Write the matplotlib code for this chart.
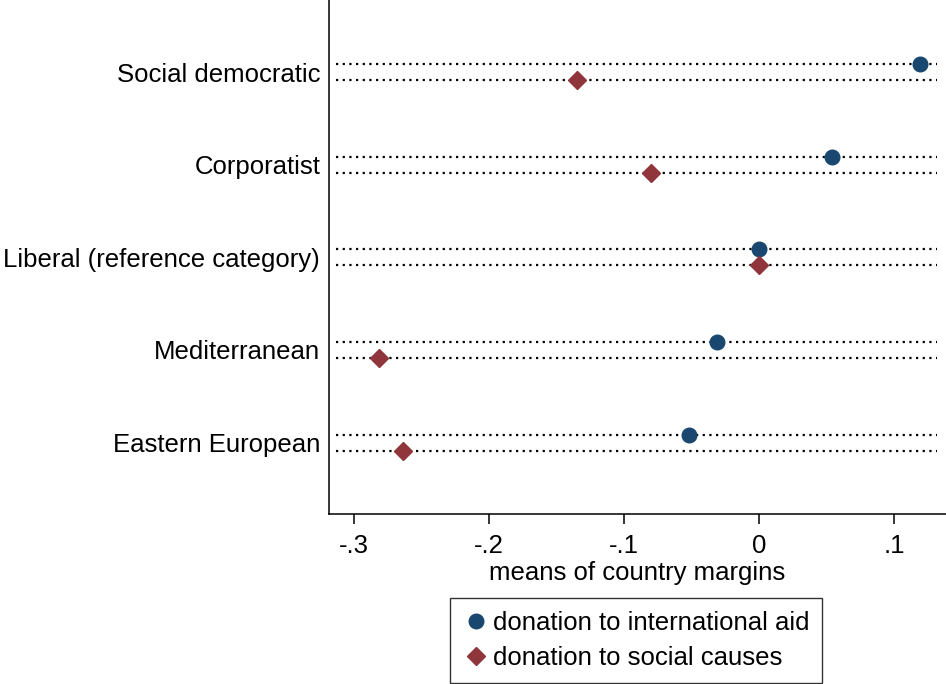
import matplotlib.pyplot as plt

plt.rcParams['font.family'] = ['Liberation Sans', 'DejaVu Sans']

# Regime types (top to bottom) and mean country margins
regimes = ['Social democratic', 'Corporatist', 'Liberal (reference category)',
           'Mediterranean', 'Eastern European']
intl_aid = [0.119, 0.054, 0.0, -0.031, -0.052]
social_causes = [-0.135, -0.080, 0.0, -0.2815, -0.264]
xticks = [-0.3, -0.2, -0.1, 0, 0.1]
xtick_labels = ['-.3', '-.2', '-.1', '0', '.1']

navy = '#1a476f'
maroon = '#90353b'
fs = 18.5

fig = plt.figure(figsize=(9.46, 6.84), dpi=100)
ax = fig.add_axes([328.5 / 946, 1 - 514.3 / 684, 1 - 328.5 / 946, 514.3 / 684])

off = 0.0864
ypos = list(range(len(regimes)))

# dotted guide lines, one per series and category
for y in ypos:
    for dy in (-off, off):
        ax.plot([-0.3133, 0.1319], [y + dy, y + dy], color='black',
                linewidth=1.6, linestyle=(0, (1, 2.0)), zorder=1)

ax.plot(intl_aid, [y - off for y in ypos], linestyle='none', marker='o',
        markersize=10.5, color=navy, label='donation to international aid', zorder=3)
ax.plot(social_causes, [y + off for y in ypos], linestyle='none', marker='D',
        markersize=9.5, color=maroon, label='donation to social causes', zorder=3)

ax.set_xlim(-0.3189, 0.1385)
ax.set_ylim(4.775, -0.781)

ax.set_yticks(ypos)
ax.set_yticklabels(regimes, fontsize=fs)
ax.tick_params(axis='y', length=0, pad=6)

ax.set_xticks(xticks)
ax.set_xticklabels(xtick_labels, fontsize=fs)
ax.tick_params(axis='x', length=7, width=1.1, pad=7, color='black')
ax.set_xlabel('means of country margins', fontsize=fs, labelpad=2)

for side in ('top', 'right'):
    ax.spines[side].set_visible(False)
for side in ('left', 'bottom'):
    ax.spines[side].set_linewidth(1.1)
    ax.spines[side].set_color('black')

leg = fig.legend(loc='center', bbox_to_anchor=(636 / 946, 1 - 640.5 / 684),
                 fontsize=fs, frameon=True, fancybox=False, edgecolor='black',
                 handletextpad=0.15, handlelength=1.0, borderpad=0.5,
                 labelspacing=0.45, borderaxespad=0)
leg.get_frame().set_linewidth(1.0)

fig.savefig('out.png', dpi=100)
